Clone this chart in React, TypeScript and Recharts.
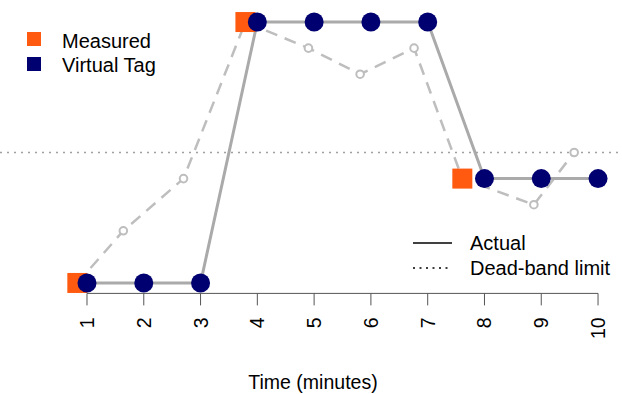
import React from 'react';
import { ComposedChart, Line, Scatter, XAxis, YAxis, ReferenceLine, Label, Customized } from 'recharts';

// ---- data ----
const virtualX = [1, 2, 3, 4, 5, 6, 7, 8, 9, 10];
const virtualY = [0, 0, 0, 100, 100, 100, 100, 40, 40, 40];
const measuredX = [0.83, 3.79, 7.61];
const measuredY = [0, 100, 40];
const actualX = [0.83, 1.64, 2.7, 3.79, 4.9, 5.81, 6.76, 7.61, 8.87, 9.58];
const actualY = [0, 20, 40, 100, 90, 80, 90, 40, 30, 50];
const deadBand = 50;
const xTicks = [1, 2, 3, 4, 5, 6, 7, 8, 9, 10];
const legendTop = ['Measured', 'Virtual Tag'];
const legendBottom = ['Actual', 'Dead-band limit'];

const virtualData = virtualX.map((x, i) => ({ x, y: virtualY[i] }));
const measuredData = measuredX.map((x, i) => ({ x, y: measuredY[i] }));
const actualData = actualX.map((x, i) => ({ x, y: actualY[i] }));

const ORANGE = '#FF5A0F';
const NAVY = '#000070';
const FONT = '"Liberation Sans", Arial, sans-serif';

const Tick = (props: any) => {
  const { x, y, payload } = props;
  return (
    <text
      x={x}
      y={y}
      transform={`rotate(-90 ${x} ${y})`}
      textAnchor="end"
      dominantBaseline="central"
      fontSize={19.5}
      fontFamily={FONT}
      fill="#000"
    >
      {payload.value}
    </text>
  );
};

const OpenDot = (props: any) => {
  const { cx, cy, index } = props;
  if (cx == null || cy == null) return <g key={`od-${index}`} />;
  return <circle key={`od-${index}`} cx={cx} cy={cy} r={3.8} fill="#fff" stroke="#BEBEBE" strokeWidth={2} />;
};

const SquareShape = (props: any) => {
  const { cx, cy } = props;
  return <rect x={cx - 10} y={cy - 10} width={20} height={20} fill={ORANGE} />;
};

const CircleShape = (props: any) => {
  const { cx, cy } = props;
  return <circle cx={cx} cy={cy} r={9.5} fill={NAVY} />;
};

const Legends = () => (
  <g fontFamily={FONT} fontSize={20} fill="#000">
    <rect x={27} y={32} width={14} height={14} fill={ORANGE} />
    <rect x={27} y={57} width={14} height={14} fill={NAVY} />
    <text x={62} y={48}>{legendTop[0]}</text>
    <text x={62} y={72}>{legendTop[1]}</text>
    <line x1={413} x2={452} y1={243} y2={243} stroke="#000" strokeWidth={1.5} />
    <line x1={413} x2={452} y1={268} y2={268} stroke="#000" strokeWidth={1.5} strokeDasharray="2 4.5" />
    <text x={470} y={250}>{legendBottom[0]}</text>
    <text x={470} y={275}>{legendBottom[1]}</text>
  </g>
);

export default function App() {
  return (
    <div style={{ position: 'absolute', left: 0, top: 0, width: 622, height: 394, background: '#fff', fontFamily: FONT }}>
      <ComposedChart width={622} height={394} margin={{ top: 11.6, right: 0, bottom: 0, left: 0 }}>
        <XAxis
          type="number"
          dataKey="x"
          domain={[-0.532, 10.422]}
          ticks={xTicks}
          interval={0}
          axisLine={false}
          tickLine={{ stroke: '#555', strokeWidth: 1 }}
          tickSize={12}
          tickMargin={12}
          height={100.6}
          tick={<Tick />}
          allowDataOverflow
        >
          <Label value="Time (minutes)" position="insideBottom" offset={5} dx={2} fontSize={19.5} fill="#000" fontFamily={FONT} />
        </XAxis>
        <YAxis type="number" dataKey="y" domain={[-4, 104]} hide allowDataOverflow />
        <ReferenceLine y={deadBand} stroke="#A0A0A0" strokeWidth={1.5} strokeDasharray="2 5" />
        <ReferenceLine
          segment={[{ x: xTicks[0], y: -4 }, { x: xTicks[xTicks.length - 1], y: -4 }]}
          stroke="#555"
          strokeWidth={1}
          ifOverflow="visible"
        />
        <Line
          data={actualData}
          dataKey="y"
          type="linear"
          stroke="#BEBEBE"
          strokeWidth={2.5}
          strokeDasharray="12 8"
          dot={<OpenDot />}
          activeDot={false}
          isAnimationActive={false}
        />
        <Line
          data={virtualData}
          dataKey="y"
          type="linear"
          stroke="#AAAAAA"
          strokeWidth={3}
          dot={false}
          activeDot={false}
          isAnimationActive={false}
        />
        <Scatter data={measuredData} dataKey="y" shape={<SquareShape />} isAnimationActive={false} />
        <Scatter data={virtualData} dataKey="y" shape={<CircleShape />} isAnimationActive={false} />
        <Customized component={<Legends />} />
      </ComposedChart>
    </div>
  );
}
